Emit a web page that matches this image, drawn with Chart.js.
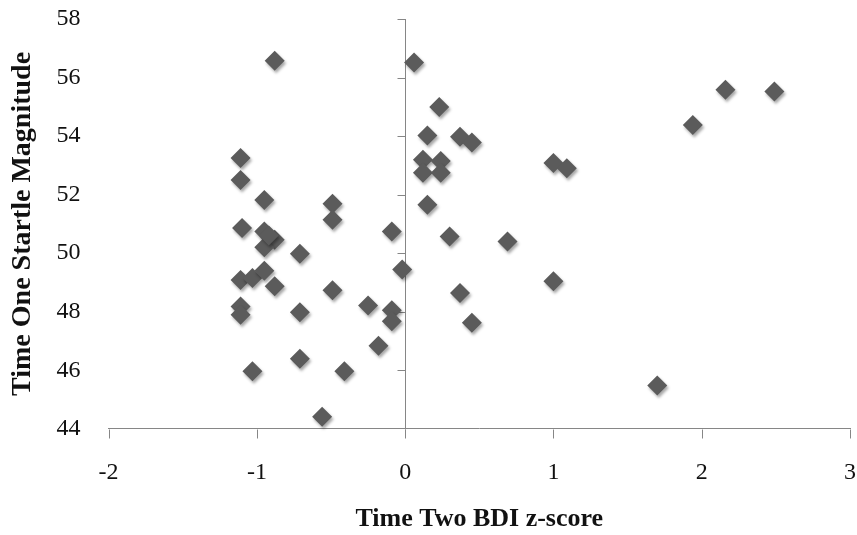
<!DOCTYPE html>
<html>
<head>
<meta charset="utf-8">
<script src="https://cdn.jsdelivr.net/npm/chart.js@4"></script>
<style>
  body { margin: 0; background: #fff; }
  #wrap { width: 857px; height: 535px; position: relative; }
</style>
</head>
<body>
<div id="wrap"><canvas id="mychart"></canvas></div>
<script>
// BDI z-score at time two (x) vs startle magnitude at time one (y)
var bdiZ = [-0.88, 0.06, -1.11, -1.11, -0.95, -0.49, -0.49, -1.10, -0.95, -0.88,
            -0.95, -0.92, -0.71, -0.09, 0.23, 0.15, 0.37, 0.45, 0.12, 0.24,
            0.12, 0.24, 0.15, 0.30, 0.69, 1.00, 1.09, 1.94, 2.16, 2.49,
            -0.02, -1.11, -1.03, -0.95, -0.88, -1.11, -1.11, -0.71, -0.49, -0.25,
            -0.09, -0.09, -0.18, -0.71, -1.03, -0.41, -0.56, 0.37, 0.45, 1.00, 1.70];
var startle = [56.57, 56.51, 53.25, 52.50, 51.82, 51.69, 51.14, 50.86, 50.74, 50.46,
               50.20, 50.60, 49.98, 50.74, 54.99, 54.02, 53.98, 53.78, 53.19, 53.15,
               52.75, 52.75, 51.65, 50.57, 50.40, 53.08, 52.90, 54.38, 55.58, 55.52,
               49.44, 49.08, 49.15, 49.40, 48.87, 48.18, 47.90, 47.98, 48.73, 48.21,
               48.05, 47.67, 46.84, 46.39, 45.97, 45.97, 44.41, 48.64, 47.62, 49.04, 45.48];
var xTicks = [-2, -1, 0, 1, 2, 3];
var yTicks = [44, 46, 48, 50, 52, 54, 56, 58];

var pts = [];
for (var i = 0; i < bdiZ.length; i++) {
  pts.push({x: bdiZ[i], y: startle[i]});
}

var axisGray = '#868686';
var serif = "'Liberation Serif', 'Times New Roman', serif";

// axis tick marks and x labels: x ticks hang down from the bottom axis,
// the vertical axis sits at x = 0 with ticks pointing left
var axisMarks = {
  id: 'axisMarks',
  beforeDatasetsDraw: function(chart) {
    var ctx = chart.ctx;
    var xs = chart.scales.x, ys = chart.scales.y;
    var px = Math.round(xs.getPixelForValue(0)) + 0.5;
    var bottom = Math.round(ys.getPixelForValue(yTicks[0])) + 0.5;
    ctx.save();
    ctx.strokeStyle = axisGray;
    ctx.lineWidth = 1;
    ctx.beginPath();
    ctx.moveTo(px, ys.getPixelForValue(yTicks[yTicks.length - 1]));
    ctx.lineTo(px, bottom);
    for (var k = 1; k < yTicks.length; k++) {
      var py = Math.round(ys.getPixelForValue(yTicks[k])) + 0.5;
      ctx.moveTo(px - 8, py);
      ctx.lineTo(px, py);
    }
    for (var j = 0; j < xTicks.length; j++) {
      var tx = Math.round(xs.getPixelForValue(xTicks[j])) + 0.5;
      ctx.moveTo(tx, bottom);
      ctx.lineTo(tx, bottom + 9);
    }
    ctx.stroke();
    ctx.fillStyle = '#111';
    ctx.font = '24px ' + serif;
    ctx.textAlign = 'center';
    ctx.textBaseline = 'middle';
    for (var m = 0; m < xTicks.length; m++) {
      ctx.fillText(String(xTicks[m]), xs.getPixelForValue(xTicks[m]), bottom + 43);
    }
    ctx.restore();
    // drop shadow for the markers
    ctx.save();
    ctx.shadowColor = 'rgba(0,0,0,0.35)';
    ctx.shadowBlur = 3;
    ctx.shadowOffsetX = 1.5;
    ctx.shadowOffsetY = 2.5;
  },
  afterDatasetsDraw: function(chart) {
    chart.ctx.restore();
  }
};

var ctx = document.getElementById('mychart').getContext('2d');
var chart = new Chart(ctx, {
  type: 'scatter',
  data: {
    datasets: [{
      data: pts,
      pointStyle: 'rectRot',
      pointRadius: 10,
      pointHoverRadius: 10,
      backgroundColor: '#5b5b5b',
      borderColor: '#5b5b5b',
      borderWidth: 0,
      clip: false
    }]
  },
  options: {
    responsive: true,
    maintainAspectRatio: false,
    animation: false,
    layout: { autoPadding: false, padding: { top: 19, right: 7, left: 6, bottom: 0 } },
    plugins: {
      legend: { display: false },
      tooltip: { enabled: false }
    },
    scales: {
      x: {
        type: 'linear',
        min: -2, max: 3,
        afterBuildTicks: function(s) { s.ticks = xTicks.map(function(v) { return {value: v}; }); },
        grid: { display: false, drawTicks: false },
        border: { display: true, color: axisGray },
        ticks: { display: false },
        title: { display: true, text: 'Time Two BDI z-score', color: '#111',
                 padding: { top: 75, bottom: 0 },
                 font: { family: serif, size: 26, weight: 'bold' } }
      },
      y: {
        type: 'linear',
        min: 44, max: 58,
        afterBuildTicks: function(s) { s.ticks = yTicks.map(function(v) { return {value: v}; }); },
        grid: { display: false, drawTicks: true, tickLength: 28 },
        border: { display: false },
        ticks: { color: '#111', padding: 0, font: { family: serif, size: 24 } },
        title: { display: true, text: 'Time One Startle Magnitude', color: '#111',
                 padding: { top: 0, bottom: 17 },
                 font: { family: serif, size: 28, weight: 'bold' } }
      }
    }
  },
  plugins: [axisMarks]
});
</script>
</body>
</html>
